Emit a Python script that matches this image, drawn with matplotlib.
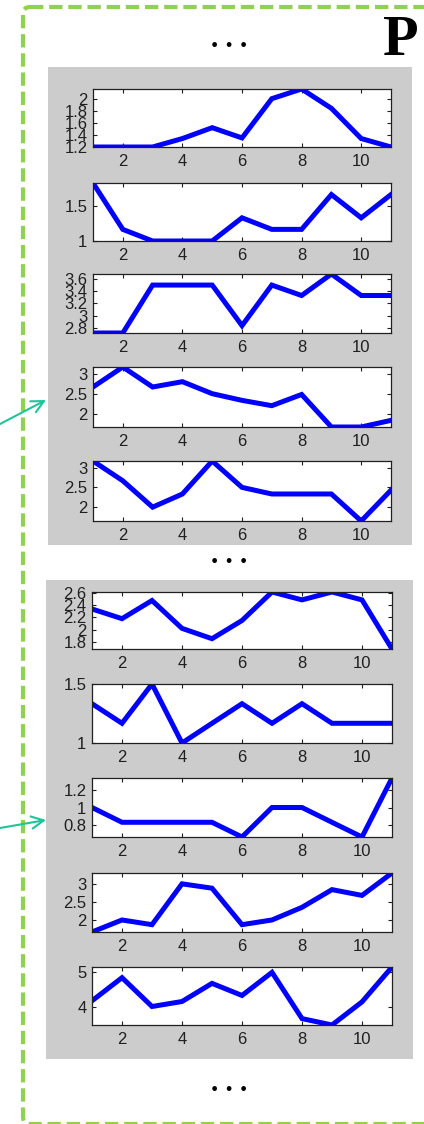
import matplotlib
matplotlib.use('Agg')
import matplotlib.pyplot as plt
from matplotlib.patches import FancyBboxPatch, Rectangle

W, H = 424, 1124

x_vals = [1, 2, 3, 4, 5, 6, 7, 8, 9, 10, 11]
x_ticks = [2, 4, 6, 8, 10]

# upper block of five traces
top_1 = [1.2, 1.2, 1.2, 1.34, 1.52, 1.35, 2.0, 2.16, 1.84, 1.34, 1.2]
top_2 = [1.833, 1.167, 1.0, 1.0, 1.0, 1.333, 1.167, 1.167, 1.667, 1.333, 1.667]
top_3 = [2.72, 2.72, 3.5, 3.5, 3.5, 2.84, 3.5, 3.33, 3.68, 3.33, 3.33]
top_4 = [2.667, 3.167, 2.667, 2.8, 2.5, 2.333, 2.2, 2.48, 1.667, 1.667, 1.833]
top_5 = [3.167, 2.667, 2.0, 2.333, 3.167, 2.5, 2.333, 2.333, 2.333, 1.65, 2.43]
top_yticks = [[1.2, 1.4, 1.6, 1.8, 2], [1, 1.5], [2.8, 3, 3.2, 3.4, 3.6],
              [2, 2.5, 3], [2, 2.5, 3]]

# lower block of five traces
bot_1 = [2.34, 2.18, 2.48, 2.02, 1.85, 2.15, 2.62, 2.49, 2.62, 2.49, 1.68]
bot_2 = [1.333, 1.167, 1.5, 1.0, 1.167, 1.333, 1.167, 1.333, 1.167, 1.167, 1.167]
bot_3 = [1.0, 0.833, 0.833, 0.833, 0.833, 0.667, 1.0, 1.0, 0.833, 0.667, 1.333]
bot_4 = [1.667, 2.0, 1.87, 3.0, 2.88, 1.87, 2.0, 2.35, 2.84, 2.68, 3.3]
bot_5 = [4.18, 4.83, 4.02, 4.16, 4.67, 4.33, 4.98, 3.68, 3.5, 4.15, 5.13]
bot_yticks = [[1.8, 2, 2.2, 2.4, 2.6], [1, 1.5], [0.8, 1, 1.2], [2, 2.5, 3], [4, 5]]

top_rows = [(89, 147), (183, 241), (274, 333), (367, 427), (461, 521)]
bot_rows = [(592, 649), (684, 743), (778, 837), (873, 932), (967, 1025)]

fig = plt.figure(figsize=(W / 100, H / 100), dpi=100)

# overlay in pixel coordinates for the frame, panels, arrows and text
bg = fig.add_axes([0, 0, 1, 1])
bg.set_xlim(0, W)
bg.set_ylim(H, 0)
bg.axis('off')

green = '#92D050'
teal = '#1DC69A'
frame = FancyBboxPatch((23, 7), 440, 1117, boxstyle='round,pad=0,rounding_size=7',
                       fill=False, ec=green, lw=3, linestyle=(0, (3.2, 1.4)), clip_on=False)
bg.add_patch(frame)
bg.add_patch(Rectangle((48, 67), 364, 478, fc='#CCCCCC', ec='none'))
bg.add_patch(Rectangle((46, 580), 367, 479, fc='#CCCCCC', ec='none'))

for tail, tip in [((0, 424), (46, 400)), ((0, 828), (46, 820))]:
    bg.annotate('', xy=tip, xytext=tail,
                arrowprops=dict(arrowstyle='->', color=teal, lw=1.5, mutation_scale=22,
                                shrinkA=0, shrinkB=0))

for y in [47, 563, 1091]:
    bg.text(229, y, '. . .', ha='center', va='baseline', fontsize=21, fontweight='bold',
            family='Liberation Serif', color='black')
bg.text(383, 55, 'P', ha='left', va='baseline', fontsize=42, fontweight='bold',
        family='Liberation Serif', color='black')


def draw(rows, x0, x1, series, yticks):
    for (y0, y1), vals, yt in zip(rows, series, yticks):
        ax = fig.add_axes([x0 / W, 1 - y1 / H, (x1 - x0) / W, (y1 - y0) / H])
        ax.plot(x_vals, vals, color='#0000FF', lw=3.6, solid_joinstyle='miter')
        ax.set_xlim(1, 11)
        ax.set_ylim(min(vals), max(vals))
        ax.set_xticks(x_ticks)
        ax.set_yticks(yt)
        ax.set_yticklabels(['%g' % t for t in yt])
        ax.tick_params(direction='in', top=True, right=True, length=3, width=0.8,
                       labelsize=12, colors='#202020')
        ax.tick_params(axis='x', pad=5)
        ax.tick_params(axis='y', pad=4)
        for lab in ax.get_xticklabels() + ax.get_yticklabels():
            lab.set_family('Liberation Sans')
        for s in ax.spines.values():
            s.set_linewidth(0.9)
            s.set_color('#202020')


draw(top_rows, 93, 391, [top_1, top_2, top_3, top_4, top_5], top_yticks)
draw(bot_rows, 92, 392, [bot_1, bot_2, bot_3, bot_4, bot_5], bot_yticks)

fig.savefig('out.png', dpi=100)
